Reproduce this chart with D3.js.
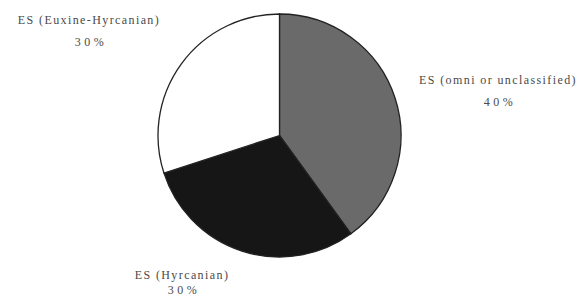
<!DOCTYPE html>
<html>
<head>
<meta charset="utf-8">
<script src="https://cdn.jsdelivr.net/npm/d3@7"></script>
<style>
  body { margin: 0; background: #fff; }
  svg text { font-family: "Liberation Serif", "DejaVu Serif", serif; fill: #4a4a4a; }
</style>
</head>
<body>
<div id="chart"></div>
<script>
const categories = ["ES (omni or unclassified)", "ES (Hyrcanian)", "ES (Euxine-Hyrcanian)"];
const values = [40, 30, 30];
const pctLabels = ["40%", "30%", "30%"];

const width = 587, height = 298;
const cx = 279.5, cy = 135.5, radius = 121.5;

const svg = d3.select("#chart").append("svg")
    .attr("width", width).attr("height", height);

const colour = d3.scaleOrdinal().domain(categories).range(["#6a6a6a", "#161616", "#ffffff"]);

const pie = d3.pie().sort(null).value(d => d.v);
const arcs = pie(categories.map((c, i) => ({c: c, v: values[i], p: pctLabels[i]})));
const arc = d3.arc().innerRadius(0).outerRadius(radius);

const g = svg.append("g").attr("transform", "translate(" + cx + "," + cy + ")");
g.selectAll("path").data(arcs).enter().append("path")
    .attr("d", arc)
    .attr("fill", d => colour(d.data.c))
    .attr("stroke", "#222")
    .attr("stroke-width", 1.3);

// label spots, one per slice (same order as categories)
const labelPos = [
  {x: 498, y1: 84, y2: 106},
  {x: 182, y1: 279, y2: 294},
  {x: 89, y1: 24, y2: 46}
];

const labels = svg.selectAll("g.lbl").data(arcs).enter().append("g").attr("class", "lbl");
labels.append("text")
    .attr("x", (d, i) => labelPos[i].x)
    .attr("y", (d, i) => labelPos[i].y1)
    .attr("text-anchor", "middle")
    .style("font-size", "12px")
    .style("letter-spacing", "1.4px")
    .text(d => d.data.c);
labels.append("text")
    .attr("x", (d, i) => labelPos[i].x + 2)
    .attr("y", (d, i) => labelPos[i].y2)
    .attr("text-anchor", "middle")
    .style("font-size", "12px")
    .style("letter-spacing", "3.5px")
    .text(d => d.data.p);
</script>
</body>
</html>
